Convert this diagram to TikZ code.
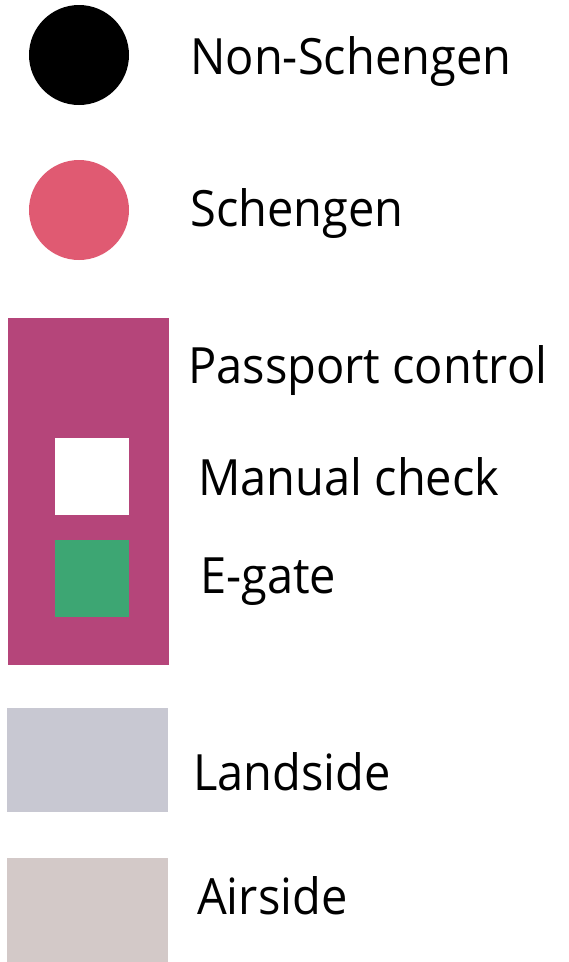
\documentclass[tikz,border=0pt]{standalone}
\usepackage{fontspec}
\setmainfont{Open Sans}[FakeStretch=0.94]
\definecolor{schen}{HTML}{E05A72}
\definecolor{pass}{HTML}{B5457A}
\definecolor{egate}{HTML}{3DA673}
\definecolor{land}{HTML}{C8C8D2}
\definecolor{air}{HTML}{D3C9C8}
\tikzset{lbl/.style={anchor=base west,inner sep=0pt,font=\fontsize{50}{60}\selectfont}}
\begin{document}
\begin{tikzpicture}[x=1pt,y=-1pt]
\useasboundingbox (0,0) rectangle (569,962);
\fill[black] (79,55) circle (50);
\fill[schen] (79,210) circle (50);
\fill[pass] (8,318) rectangle (169,665);
\fill[white] (55,438) rectangle (129,515);
\fill[egate] (55,540) rectangle (129,617);
\fill[land] (7,708) rectangle (168,812);
\fill[air] (7,858) rectangle (168,962);
\node[lbl] (t1) at (190,74) {Non-Schengen};
\node[lbl] (t2) at (190,226) {Schengen};
\node[lbl] (t3) at (188,383) {Passport control};
\node[lbl] (t4) at (198,495) {Manual check};
\node[lbl] (t5) at (200,593) {E-gate};
\node[lbl] (t6) at (193,790) {Landside};
\node[lbl] (t7) at (197,914) {Airside};
\end{tikzpicture}
\end{document}
